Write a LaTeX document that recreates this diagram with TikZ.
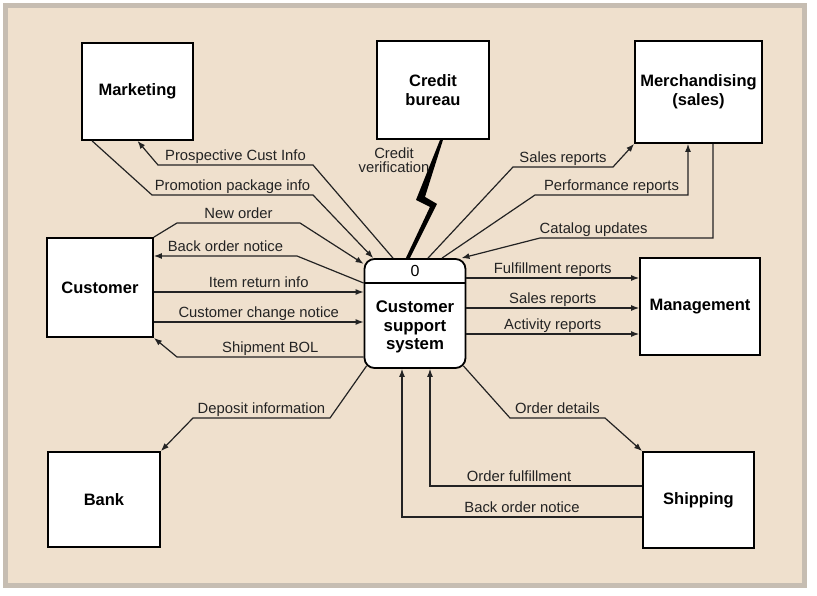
\documentclass[tikz,border=0pt]{standalone}
\usepackage{fontspec}
\setmainfont{Liberation Sans}
\usetikzlibrary{arrows.meta}
\definecolor{paper}{RGB}{239,224,205}
\definecolor{framegray}{RGB}{198,189,178}
\definecolor{ink}{RGB}{35,35,35}

\tikzset{
  entity/.style={draw=black, line width=1.8pt, fill=white, inner sep=0pt, align=center,
    font=\fontsize{16.5}{19}\selectfont\bfseries},
  flow/.style={->, draw=ink, line width=1.2pt},
  lbl/.style={text=ink, font=\fontsize{14.8}{14}\selectfont, inner sep=1pt,
    text height=10.5pt, text depth=3pt}
}

\begin{document}
\begin{tikzpicture}[x=1pt, y=-1pt, >={Latex[length=8pt,width=6pt]}]
  \useasboundingbox (0,0) rectangle (817,596);
  % paper and frame
  \draw[framegray, fill=paper, line width=5pt] (5.5,5.5) rectangle (804.5,585.5);
  % external entities
  \node[entity, minimum width=111pt, minimum height=97pt] (mkt) at (137.5,91.5) {Marketing};
  \node[entity, minimum width=112pt, minimum height=98pt] (crd) at (433,90) {Credit\\bureau};
  \node[entity, minimum width=127pt, minimum height=102pt] (merch) at (698.5,92) {Merchandising\\(sales)};
  \node[entity, minimum width=106pt, minimum height=99pt] (cust) at (100,287.5) {Customer};
  \node[entity, minimum width=120pt, minimum height=97pt] (mgmt) at (700,306.5) {Management};
  \node[entity, minimum width=112pt, minimum height=95pt] (bank) at (104,499.5) {Bank};
  \node[entity, minimum width=111pt, minimum height=96pt] (ship) at (698.5,500) {Shipping};
  % process 0
  \node[draw=black, line width=1.8pt, fill=white, rounded corners=10pt,
        minimum width=101pt, minimum height=109pt] (proc) at (415,313.5) {};
  \draw[line width=1.5pt] (proc.west |- 0,283) -- (proc.east |- 0,283);
  \node[font=\fontsize{16}{18}\selectfont] (procid) at (415,271) {0};
  \node[align=center, font=\fontsize{16.8}{18.5}\selectfont\bfseries] (procname) at (415,327)
    {Customer\\support\\system};
  % marketing
  \draw[flow] ([xshift=-22pt]proc.north) -- (313,165)
     -- node[lbl, above] {Prospective Cust Info} (158,165) -- (mkt.south);
  \draw[flow] ([xshift=11pt]mkt.south west) -- (152,195)
     -- node[lbl, above] {Promotion package info} (313,195) -- (proc.127);
  % customer
  \draw[flow] (cust.north east) -- (177,223)
     -- node[lbl, above] {New order} (300,223) -- (proc.136);
  \draw[flow] (proc.west |- 0,283) -- (297,256)
     -- node[lbl, above] {Back order notice} (cust.east |- 0,256);
  \foreach \y/\t in {292/Item return info, 322/Customer change notice}
    \draw[flow] (cust.east |- 0,\y) -- node[lbl, above] {\t} (proc.west |- 0,\y);
  \draw[flow] (proc.west |- 0,357) -- node[lbl, above] {Shipment BOL} (177,357)
     -- (cust.south east);
  % credit bureau (lightning)
  \coordinate (bolttop) at ([xshift=7pt]crd.south);
  \fill[black] (bolttop) -- ++(-24,60) -- ++(14,7) -- ++(-25,53) -- ++(4,0)
     -- ++(28,-56) -- ++(-12,-7) -- ++(18,-57) -- cycle;
  \node[text=ink, align=center, font=\fontsize{14.8}{14}\selectfont] (crdlbl) at (394,160)
    {Credit\\verification};
  % merchandising
  \draw[flow] ([xshift=13pt]proc.north) -- (513,167)
     -- node[lbl, above] {Sales reports} (613,167) -- (merch.south west);
  \draw[flow] ([xshift=27pt]proc.north) -- (535,195)
     -- node[lbl, above] {Performance reports} (688,195) -- ([xshift=-10.5pt]merch.south);
  \draw[flow] ([xshift=14.5pt]merch.south) -- (713,238)
     -- node[lbl, above, pos=0.69] {Catalog updates} (540,238) -- (proc.50);
  % management
  \foreach \y/\t in {278/Fulfillment reports, 308/Sales reports, 334/Activity reports}
    \draw[flow] (proc.east |- 0,\y) -- node[lbl, above] {\t} (mgmt.west |- 0,\y);
  % bank
  \draw[flow] ([xshift=3pt,yshift=3pt]proc.south west) -- (330,418)
     -- node[lbl, above] {Deposit information} (193,418) -- (bank.north east);
  % shipping
  \draw[flow] ([xshift=-3pt,yshift=3pt]proc.south east) -- (510,418)
     -- node[lbl, above] {Order details} (605,418) -- (ship.north west);
  \draw[flow] (ship.west |- 0,486) -| node[lbl, above, pos=0.29] {Order fulfillment}
     ([xshift=15pt]proc.south);
  \draw[flow] (ship.west |- 0,517) -| node[lbl, above, pos=0.25] {Back order notice}
     ([xshift=-13pt]proc.south);
\end{tikzpicture}
\end{document}
